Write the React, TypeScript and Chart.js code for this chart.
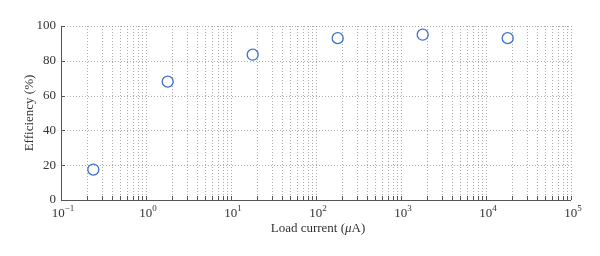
import React, { useEffect, useRef } from "react";
import { Chart, registerables } from "chart.js";

Chart.register(...registerables);

const loadCurrent = [0.24, 1.8, 18, 180, 1800, 18000];
const efficiency = [17.5, 68, 83.5, 93, 95, 93];
const yTicks = [0, 20, 40, 60, 80, 100];
const xExponents = [-1, 0, 1, 2, 3, 4, 5];

const FONT = "'Liberation Serif', 'DejaVu Serif', serif";
const GRID = "rgba(150,150,150,0.8)";
const AXIS = "#555";

const decorPlugin = {
  id: "decor",
  beforeDatasetsDraw(chart: any) {
    const ctx = chart.ctx;
    const { left, right, top, bottom } = chart.chartArea;
    const xs = chart.scales.x;
    const ys = chart.scales.y;
    ctx.save();
    // dotted grid
    ctx.strokeStyle = GRID;
    ctx.lineWidth = 1;
    ctx.setLineDash([1, 2]);
    xs.ticks.forEach((t: any) => {
      const px = Math.round(xs.getPixelForValue(t.value)) + 0.5;
      if (px <= left + 1) return;
      ctx.beginPath();
      ctx.moveTo(px, top);
      ctx.lineTo(px, bottom);
      ctx.stroke();
    });
    yTicks.forEach((v) => {
      const py = Math.round(ys.getPixelForValue(v)) + 0.5;
      if (py >= bottom - 1) return;
      ctx.beginPath();
      ctx.moveTo(left, py);
      ctx.lineTo(right, py);
      ctx.stroke();
    });
    ctx.setLineDash([]);
    // axes
    ctx.strokeStyle = AXIS;
    ctx.lineWidth = 1;
    ctx.beginPath();
    ctx.moveTo(left + 0.5, top);
    ctx.lineTo(left + 0.5, bottom + 0.5);
    ctx.lineTo(right, bottom + 0.5);
    ctx.stroke();
    // inner tick marks
    xs.ticks.forEach((t: any) => {
      const px = Math.round(xs.getPixelForValue(t.value)) + 0.5;
      ctx.beginPath();
      ctx.moveTo(px, bottom);
      ctx.lineTo(px, bottom - 4);
      ctx.stroke();
    });
    yTicks.forEach((v) => {
      const py = Math.round(ys.getPixelForValue(v)) + 0.5;
      ctx.beginPath();
      ctx.moveTo(left, py);
      ctx.lineTo(left + 4, py);
      ctx.stroke();
    });
    // x tick labels with superscripts
    ctx.fillStyle = "#333";
    ctx.textBaseline = "alphabetic";
    xExponents.forEach((e) => {
      const px = xs.getPixelForValue(Math.pow(10, e));
      const base = "10";
      const sup = e < 0 ? "\u2212" + Math.abs(e) : String(e);
      ctx.font = `13px ${FONT}`;
      const bw = ctx.measureText(base).width;
      ctx.font = `9px ${FONT}`;
      const sw = ctx.measureText(sup).width;
      const total = bw + sw;
      const x0 = px - total / 2 + 2;
      ctx.font = `13px ${FONT}`;
      ctx.textAlign = "left";
      ctx.fillText(base, x0, bottom + 17);
      ctx.font = `9px ${FONT}`;
      ctx.fillText(sup, x0 + bw, bottom + 11);
    });
    // x axis title with italic mu
    const cx = (left + right) / 2 + 2;
    const y = bottom + 32;
    const p1 = "Load current (";
    const p2 = "\u03bc";
    const p3 = "A)";
    ctx.font = `13px ${FONT}`;
    const w1 = ctx.measureText(p1).width;
    const w3 = ctx.measureText(p3).width;
    ctx.font = `italic 13px ${FONT}`;
    const w2 = ctx.measureText(p2).width;
    let x = cx - (w1 + w2 + w3) / 2;
    ctx.font = `13px ${FONT}`;
    ctx.fillText(p1, x, y);
    x += w1;
    ctx.font = `italic 13px ${FONT}`;
    ctx.fillText(p2, x, y);
    x += w2;
    ctx.font = `13px ${FONT}`;
    ctx.fillText(p3, x, y);
    ctx.restore();
  },
};

export default function App() {
  const ref = useRef<HTMLCanvasElement>(null);
  useEffect(() => {
    document.body.style.margin = "0";
    const ch = new Chart(ref.current!, {
      type: "scatter",
      data: {
        datasets: [
          {
            data: loadCurrent.map((x, i) => ({ x, y: efficiency[i] })),
            pointStyle: "circle",
            pointRadius: 5.5,
            pointBorderWidth: 1.3,
            pointBorderColor: "#3b6fd0",
            pointBackgroundColor: "rgba(0,0,0,0)",
          },
        ],
      },
      options: {
        animation: false,
        responsive: false,
        maintainAspectRatio: false,
        layout: { padding: { top: 26, right: 29, left: 0, bottom: 0 } },
        plugins: { legend: { display: false }, tooltip: { enabled: false } },
        scales: {
          x: {
            type: "logarithmic",
            min: 0.1,
            max: 100000,
            grid: { display: false },
            border: { display: false },
            ticks: { display: false },
            afterBuildTicks: (scale: any) => {
              const t: any[] = [];
              for (let e = -1; e <= 4; e++) {
                for (let s = 1; s <= 9; s++) {
                  t.push({ value: s * Math.pow(10, e), major: s === 1 });
                }
              }
              t.push({ value: 100000, major: true });
              scale.ticks = t;
            },
            afterFit: (scale: any) => {
              scale.height = 56;
            },
          },
          y: {
            min: 0,
            max: 100,
            grid: { display: false, drawTicks: false },
            border: { display: false },
            afterBuildTicks: (scale: any) => {
              scale.ticks = yTicks.map((v) => ({ value: v }));
            },
            ticks: {
              color: "#333",
              font: { family: FONT, size: 13 },
              padding: 5,
            },
            title: {
              display: true,
              text: "Efficiency (%)",
              color: "#333",
              font: { family: FONT, size: 13 },
              padding: { top: 22, bottom: 6 },
            },
            afterFit: (scale: any) => {
              scale.width = 61;
            },
          },
        },
      },
      plugins: [decorPlugin],
    });
    return () => ch.destroy();
  }, []);
  return <canvas ref={ref} width={600} height={256} style={{ display: "block" }} />;
}
